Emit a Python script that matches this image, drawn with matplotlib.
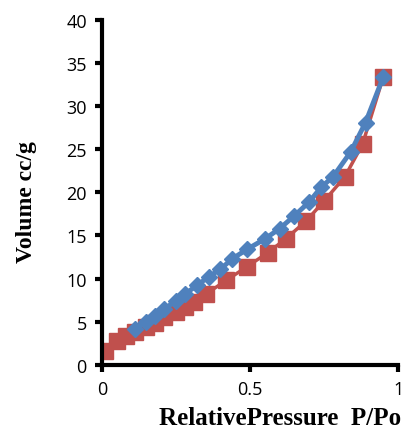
import matplotlib
matplotlib.use("Agg")
import matplotlib.pyplot as plt

# adsorption branch (red squares)
ads_p = [0.01, 0.05, 0.08, 0.11, 0.15, 0.18, 0.21, 0.25, 0.28, 0.31,
         0.35, 0.42, 0.49, 0.56, 0.62, 0.69, 0.75, 0.82, 0.88, 0.95]
ads_v = [1.6, 2.8, 3.3, 3.8, 4.4, 4.9, 5.5, 6.1, 6.7, 7.3,
         8.2, 9.8, 11.4, 13.0, 14.6, 16.7, 19.0, 21.8, 25.6, 33.4]

# desorption branch (blue diamonds)
des_p = [0.95, 0.89, 0.84, 0.78, 0.74, 0.70, 0.65, 0.60, 0.55, 0.49,
         0.44, 0.40, 0.36, 0.32, 0.28, 0.25, 0.21, 0.18, 0.15, 0.11]
des_v = [33.4, 28.1, 24.7, 21.8, 20.6, 18.9, 17.3, 15.8, 14.6, 13.4,
         12.3, 11.1, 10.2, 9.2, 8.2, 7.4, 6.5, 5.7, 5.0, 4.2]

x_ticks = [0, 0.5, 1]
x_tick_labels = ["0", "0.5", "1"]
y_ticks = [0, 5, 10, 15, 20, 25, 30, 35, 40]

red = "#C0504D"
blue = "#4F81BD"

fig = plt.figure(figsize=(4.05, 4.35), dpi=100)
ax = fig.add_axes([0.252, 0.159, 0.731, 0.793])

ax.plot(ads_p, ads_v, color=red, lw=2.5, marker="s", ms=11,
        markeredgecolor=red, zorder=2)
ax.plot(des_p, des_v, color=blue, lw=3.5, marker="D", ms=8.5,
        markeredgecolor=blue, zorder=3)

ax.set_xlim(0, 1)
ax.set_ylim(0, 40)
ax.set_xticks(x_ticks)
ax.set_xticklabels(x_tick_labels)
ax.set_yticks(y_ticks)

for side in ["top", "right"]:
    ax.spines[side].set_visible(False)
for side in ["left", "bottom"]:
    ax.spines[side].set_linewidth(3)
ax.tick_params(direction="out", length=5, width=3, labelsize=13, pad=6)
for lbl in ax.get_xticklabels() + ax.get_yticklabels():
    lbl.set_family("Open Sans")

ax.set_xlabel("RelativePressure  P/Po", family="Liberation Serif",
              fontweight="bold", fontsize=18)
ax.set_ylabel("Volume cc/g", family="Liberation Serif",
              fontweight="bold", fontsize=17)
ax.xaxis.set_label_coords(0.6, -0.118)
ax.yaxis.set_label_coords(-0.22, 0.475)

fig.savefig("out.png", dpi=100)
plt.close(fig)
